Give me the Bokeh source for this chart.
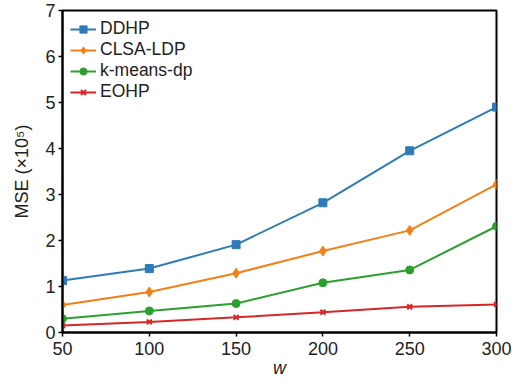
from bokeh.plotting import figure
from bokeh.models import Range1d, Legend, LegendItem, FixedTicker
from bokeh.embed import file_html
from bokeh.resources import INLINE

w_values = [50, 100, 150, 200, 250, 300]
ddhp = [1.13, 1.39, 1.91, 2.82, 3.95, 4.90]
clsa_ldp = [0.60, 0.88, 1.29, 1.77, 2.22, 3.22]
kmeans_dp = [0.30, 0.47, 0.63, 1.08, 1.36, 2.31]
eohp = [0.15, 0.23, 0.33, 0.44, 0.56, 0.61]

series = [
    ("DDHP", ddhp, "#2f7ab9", "square", 8),
    ("CLSA-LDP", clsa_ldp, "#f57f17", "diamond", 10),
    ("k-means-dp", kmeans_dp, "#2ca02c", "circle", 8),
    ("EOHP", eohp, "#d62728", "x", 7),
]

FONT = "Liberation Sans"

p = figure(width=517, height=383, output_backend="svg", toolbar_location=None,
           x_range=Range1d(50, 300), y_range=Range1d(0, 7),
           min_border_left=62, min_border_right=21, min_border_top=10, min_border_bottom=51)

items = []
for name, vals, color, marker, size in series:
    r1 = p.line(w_values, vals, line_color=color, line_width=2)
    r2 = p.scatter(w_values, vals, marker=marker, size=size, fill_color=color,
                   line_color=color, line_width=2 if marker == "x" else 1)
    items.append(LegendItem(label=name, renderers=[r1, r2]))

legend = Legend(items=items, location="top_left", border_line_color=None,
                background_fill_alpha=0, label_text_font=FONT,
                label_text_font_size="17.5px", label_text_color="#222222",
                glyph_width=26, glyph_height=18,
                spacing=0, padding=4, margin=8, label_standoff=4,
                label_height=18)
p.add_layout(legend)

p.xgrid.grid_line_color = None
p.ygrid.grid_line_color = None
p.outline_line_color = "black"
p.outline_line_width = 2
p.outline_line_alpha = 1

p.xaxis.ticker = FixedTicker(ticks=[50, 100, 150, 200, 250, 300])
p.yaxis.ticker = FixedTicker(ticks=[0, 1, 2, 3, 4, 5, 6, 7])
for ax in (p.xaxis, p.yaxis):
    ax.axis_line_color = "black"
    ax.axis_line_width = 2
    ax.major_tick_line_color = "black"
    ax.major_tick_line_width = 1.5
    ax.major_tick_out = 4
    ax.major_tick_in = 0
    ax.minor_tick_line_color = None
    ax.major_label_text_font = FONT
    ax.major_label_text_font_size = "18px"
    ax.major_label_text_color = "#222222"
    ax.axis_label_text_font = FONT
    ax.axis_label_text_font_size = "18px"
    ax.axis_label_text_font_style = "normal"
    ax.axis_label_text_color = "#222222"

p.xaxis.axis_label = "w"
p.xaxis.axis_label_text_font_style = "italic"
p.xaxis.axis_label_standoff = 0
p.xaxis.major_label_standoff = 5
p.yaxis.axis_label = "MSE (×10⁵)"
p.yaxis.axis_label_standoff = 10
p.yaxis.major_label_standoff = 3

open("out.html", "w").write(file_html(p, INLINE))
